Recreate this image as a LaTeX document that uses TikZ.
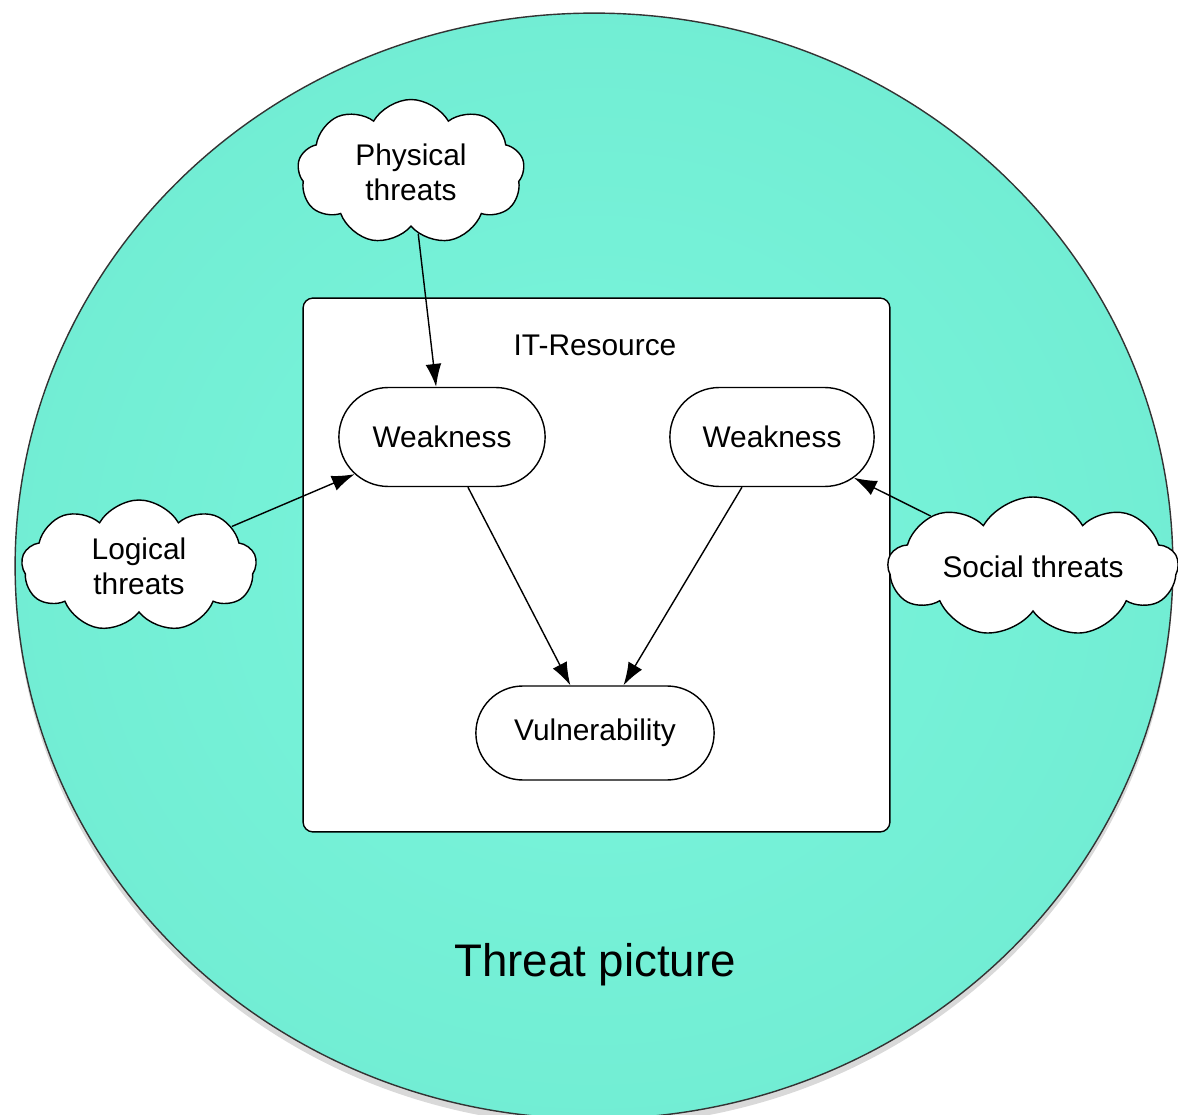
\documentclass[tikz,border=0pt]{standalone}
\usepackage{fontspec}
\setmainfont{Liberation Sans}
\usetikzlibrary{shapes.symbols,shapes.misc,arrows.meta,shadows}
\definecolor{tpinner}{HTML}{7AF6DC}
\definecolor{tpouter}{HTML}{62DCC3}
\pgfdeclareradialshading{threatglow}{\pgfpoint{0bp}{0bp}}{color(0bp)=(tpinner); color(30bp)=(tpinner!60!tpouter); color(50bp)=(tpouter)}

\begin{document}
\begin{tikzpicture}[x=0.02cm, y=-0.02cm,
    every node/.style={font=\fontsize{17}{20}\selectfont},
    threatcloud/.style={cloud, cloud puffs=9, cloud puff arc=120, cloud ignores aspect, draw, line width=0.8pt, fill=white, align=center, inner sep=0pt},
    weak/.style={rounded rectangle, draw, line width=0.8pt, fill=white, minimum width=4.36cm, minimum height=1.98cm},
    arr/.style={line width=0.8pt, -{Latex[length=13pt, width=9pt]}}]
        \useasboundingbox (0,0) rectangle (1178,1115);
        \draw[line width=0.8pt, draw=black!80, shading=threatglow, drop shadow={shadow xshift=0pt, shadow yshift=-4pt, opacity=0.3}] (594,566) ellipse [x radius=11.58cm, y radius=11.06cm];

        \node[draw, fill=white, line width=0.8pt, rounded corners=0.2cm, minimum width=11.74cm, minimum height=10.68cm] (res) at (596.5,565) {};
        \node (restitle) at (595,345) {IT-Resource};

        \node[threatcloud, minimum width=4.54cm, minimum height=2.9cm] (phys) at (411,172) {Physical\\threats};
        \node[threatcloud, minimum width=4.7cm, minimum height=2.64cm] (logic) at (139,566) {Logical\\threats};
        \node[threatcloud, minimum width=5.8cm, minimum height=2.8cm] (social) at (1033,567) {Social threats};

        \node[weak] (weakl) at (442,437) {Weakness};
        \node[weak, minimum width=4.32cm] (weakr) at (772,437) {Weakness};
        \node[weak, minimum width=5cm, minimum height=1.88cm] (vuln) at (595,733) {Vulnerability};

        \node[font=\fontsize{26}{30}\selectfont] (title) at (595,965) {Threat picture};

        \draw[arr] (phys) -- (weakl);
        \draw[arr] (logic) -- (weakl);
        \draw[arr] (social) -- (weakr);
        \draw[arr] (weakl) -- (vuln);
        \draw[arr] (weakr) -- (vuln);
    \end{tikzpicture}
\end{document}
